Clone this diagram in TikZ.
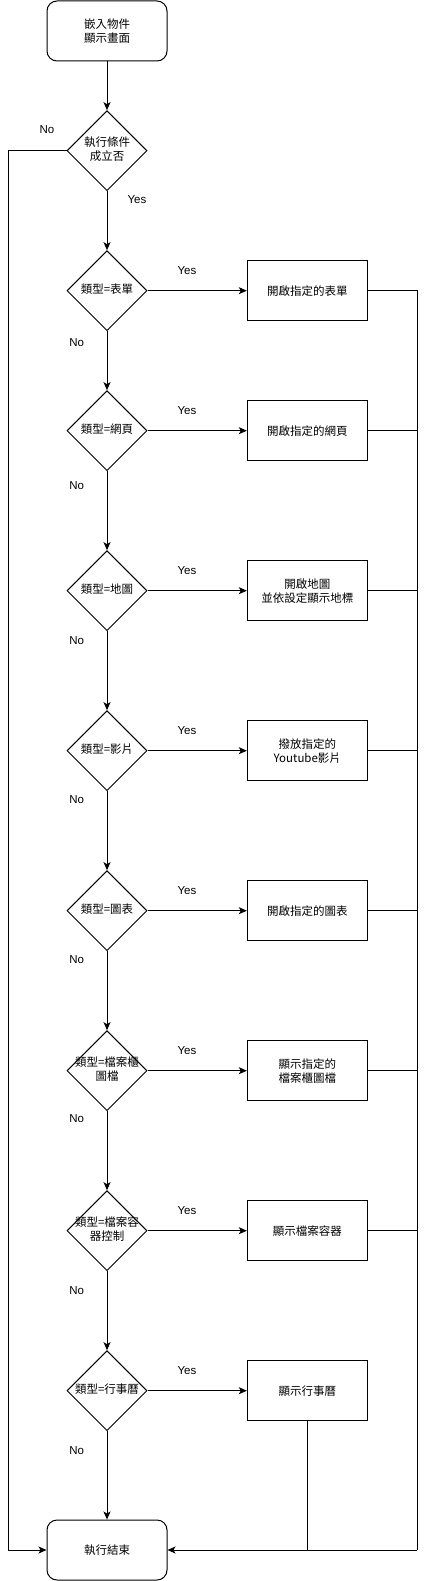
\documentclass[tikz,border=0pt]{standalone}
\usepackage{fontspec}
\setmainfont{Liberation Sans}
\newfontfamily\cjk{Noto Sans CJK TC}
\usetikzlibrary{shapes.geometric,arrows.meta}
\tikzset{
  x=1pt,y=-1pt,
  every node/.style={font=\fontsize{11.5}{14}\selectfont},
  startstop/.style={draw,line width=1pt,rounded corners=10pt,minimum width=120pt,minimum height=60pt,inner sep=0pt,align=center,font=\cjk\fontsize{11.5}{14}\selectfont},
  procbox/.style={draw,line width=1pt,minimum width=120pt,minimum height=60pt,inner sep=0pt,align=center,font=\cjk\fontsize{11.5}{14}\selectfont},
  decision/.style={draw,line width=1pt,diamond,aspect=1,minimum width=80pt,minimum height=80pt,inner sep=0pt,font=\cjk\fontsize{11.5}{14}\selectfont},
  lbl/.style={font=\fontsize{11.5}{14}\selectfont},
  conn/.style={line width=1pt},
  arr/.style={conn,-{Stealth[length=8pt,width=7pt,inset=2pt]}}
}
\newcommand{\dtext}[1]{\makebox[0pt]{\begin{tabular}{@{}c@{}}#1\end{tabular}}}
\begin{document}
\begin{tikzpicture}
\useasboundingbox (0,0) rectangle (426,1581);
\node[startstop] (start) at (107,31) {嵌入物件\\顯示畫面};
\node[decision] (d1) at (107,150.7) {\dtext{執行條件\\成立否}};
\node[decision] (d2) at (107,290.7) {\dtext{類型=表單}};
\node[decision] (d3) at (107,430.7) {\dtext{類型=網頁}};
\node[decision] (d4) at (107,590.7) {\dtext{類型=地圖}};
\node[decision] (d5) at (107,750.7) {\dtext{類型=影片}};
\node[decision] (d6) at (107,910.7) {\dtext{類型=圖表}};
\node[decision] (d7) at (107,1070.7) {\dtext{類型=檔案櫃\\圖檔}};
\node[decision] (d8) at (107,1230.7) {\dtext{類型=檔案容\\器控制}};
\node[decision] (d9) at (107,1390.7) {\dtext{類型=行事曆}};
\node[startstop] (end) at (107,1550) {執行結束};

\node[procbox] (b2) at (307.3,290.7) {開啟指定的表單};
\node[procbox] (b3) at (307.3,430.7) {開啟指定的網頁};
\node[procbox] (b4) at (307.3,590.7) {開啟地圖\\並依設定顯示地標};
\node[procbox] (b5) at (307.3,750.7) {撥放指定的\\Youtube影片};
\node[procbox] (b6) at (307.3,910.7) {開啟指定的圖表};
\node[procbox] (b7) at (307.3,1070.7) {顯示指定的\\檔案櫃圖檔};
\node[procbox] (b8) at (307.3,1230.7) {顯示檔案容器};
\node[procbox] (b9) at (307.3,1390.7) {顯示行事曆};

\coordinate (lft) at (8,150.7);
\coordinate (rgt) at (417.3,1550);

% main vertical flow
\draw[arr] (start) -- (d1);
\foreach \a/\b in {d1/d2,d2/d3,d3/d4,d4/d5,d5/d6,d6/d7,d7/d8,d8/d9,d9/end}
  \draw[arr] (\a.south) -- (\b.north);
% No from d1
\draw[arr] (d1.west) -- (lft) |- (end.west);
\node[lbl] (no1) at (47,130) {No};
\node[lbl] (yes1) at (137,200) {Yes};
% yes branches
\foreach \i in {2,...,9}
  \draw[arr] (d\i.east) -- (b\i.west);
\foreach \i/\y in {2/270.7,3/410.7,4/570.7,5/730.7,6/890.7,7/1050.7,8/1210.7,9/1370.7}
  \node[lbl] (yes\i) at (187,\y) {Yes};
\foreach \i/\y in {2/343,3/486,4/640.7,5/800,6/960,7/1119,8/1291,9/1451}
  \node[lbl] (no\i) at (76.7,\y) {No};
% right merge line
\draw[conn] (b2.east) -| (rgt);
\foreach \i in {3,...,8}
  \draw[conn] (b\i.east) -- (b\i.east -| rgt);
\draw[arr] (rgt) -- (end.east);
\draw[conn] (b9.south) -- (b9.south |- end.east);
\end{tikzpicture}
\end{document}
